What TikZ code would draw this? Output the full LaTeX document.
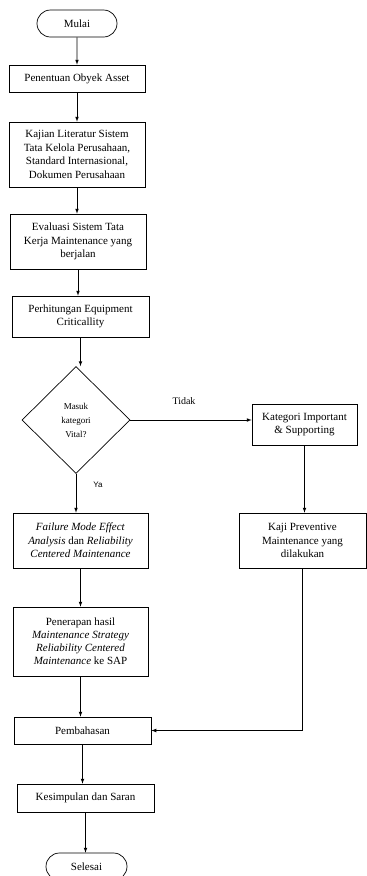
\documentclass[tikz,border=0pt]{standalone}
\usepackage{fontspec}
\setmainfont{Liberation Serif}
\setsansfont{Liberation Sans}
\usetikzlibrary{shapes.geometric,shapes.misc}

\begin{document}
\begin{tikzpicture}[x=1pt,y=-1pt,line width=0.7pt,
		every node/.style={font=\fontsize{11}{13.5}\selectfont,align=center,inner sep=1pt},
		box/.style args={#1x#2}{draw,rectangle,minimum width=#1pt,minimum height=#2pt},
		terminal/.style args={#1x#2}{draw,rounded rectangle,minimum width=#1pt,minimum height=#2pt},
		decision/.style args={#1x#2}{draw,diamond,inner sep=0pt,minimum width=#1pt,minimum height=#2pt,
			font=\fontsize{9}{14}\selectfont}]
	\useasboundingbox (0,0) rectangle (367,876);
	% left column
	\node[terminal=82x27] (mulai) at (77,23.5) {Mulai};
	\node[box=136x27] (penentuan) at (77,78.5) {Penentuan Obyek Asset};
	\node[box=136x65] (kajian) at (77,154.5) {Kajian Literatur Sistem\\Tata Kelola Perusahaan,\\Standard Internasional,\\Dokumen Perusahaan};
	\node[box=136x55] (evaluasi) at (78,241.5) {Evaluasi Sistem Tata\\Kerja Maintenance yang\\berjalan};
	\node[box=137x41] (perhitungan) at (80.5,316.5) {Perhitungan Equipment\\Criticallity};
	\node[decision=108x107] (vital) at (76,420) {Masuk\\kategori\\Vital?};
	\node[box=135x55] (fmea) at (80.5,540.5) {\textit{Failure Mode Effect}\\\textit{Analysis} dan \textit{Reliability}\\\textit{Centered Maintenance}};
	\node[box=135x69,font=\fontsize{11}{13}\selectfont] (penerapan) at (80.5,641.5) {Penerapan hasil\\\textit{Maintenance Strategy}\\\textit{Reliability Centered}\\\textit{Maintenance} ke SAP};
	\node[box=137x27] (pembahasan) at (82.5,730.5) {Pembahasan};
	\node[box=137x28] (kesimpulan) at (85.5,798) {Kesimpulan dan Saran};
	\node[terminal=83x27] (selesai) at (86.5,866.5) {Selesai};
	% right column
	\node[box=105x41] (kategori) at (304.5,424.5) {Kategori Important\\\& Supporting};
	\node[box=127x55] (kaji) at (302.5,540.5) {Kaji Preventive\\Maintenance yang\\dilakukan};
	% labels
	\node[font=\fontsize{10}{12}\selectfont] (tidak) at (184,401) {Tidak};
	\node[font=\sffamily\fontsize{8}{9}\selectfont] (ya) at (98,485) {Ya};
	% connectors
	\foreach \A/\B in {mulai/penentuan,penentuan/kajian,kajian/evaluasi,evaluasi/perhitungan,
		perhitungan/vital,vital/fmea,fmea/penerapan,penerapan/pembahasan,
		pembahasan/kesimpulan,kesimpulan/selesai,kategori/kaji}
	\draw[-latex] (\A) -- (\A |- \B.north);
	\draw[-latex] (vital.east) -- (vital.east -| kategori.west);
	\draw[-latex] (kaji) |- (pembahasan);
\end{tikzpicture}
\end{document}
